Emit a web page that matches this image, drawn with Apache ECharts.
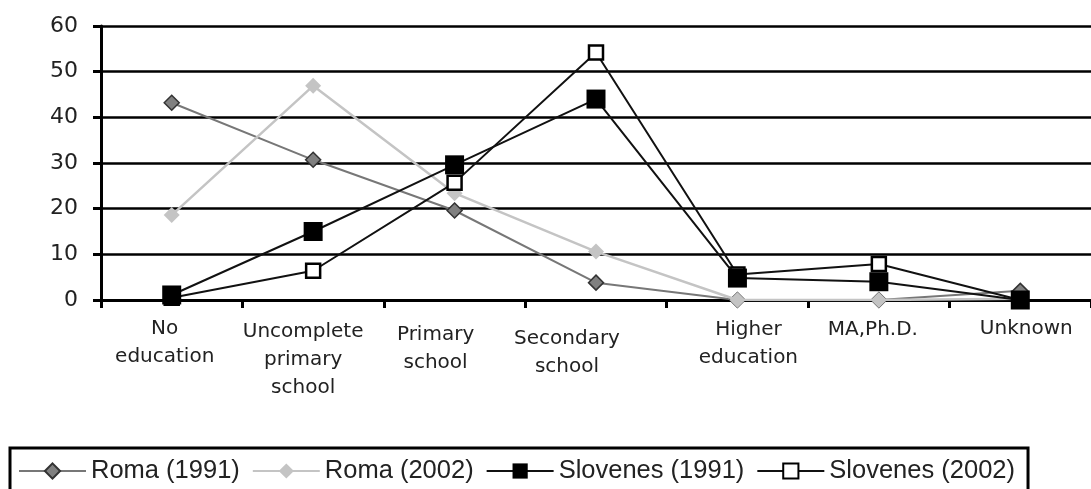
<!DOCTYPE html>
<html>
<head>
<meta charset="utf-8">
<script src="https://cdn.jsdelivr.net/npm/echarts@6/dist/echarts.min.js"></script>
<style>
html,body{margin:0;padding:0;background:#fff;}
#c{width:1091px;height:489px;}
</style>
</head>
<body>
<div id="c"></div>
<script>
const categories = ['No\neducation', 'Uncomplete\nprimary\nschool', 'Primary\nschool', 'Secondary\nschool', 'Higher\neducation', 'MA,Ph.D.', 'Unknown'];
const yTicks = [0, 10, 20, 30, 40, 50, 60];
const roma1991 = [43.2, 30.7, 19.6, 3.8, 0, 0, 2];
const roma2002 = [18.6, 46.9, 23.4, 10.6, 0, 0, 0.3];
const slovenes1991 = [1.1, 15.0, 29.6, 44.0, 4.8, 4.0, 0];
const slovenes2002 = [0.5, 6.4, 25.7, 54.2, 5.6, 7.9, 0];
const seriesNames = ['Roma (1991)', 'Roma (2002)', 'Slovenes (1991)', 'Slovenes (2002)'];

// label placement tweaks (style only): [top, right, bottom, left]
const labelPad = [[1,14,0,0],[4,20,0,0],[7,38,0,0],[11,58,0,0],[2,0,0,22],[2,12,0,0],[1,0,0,12]];

const chart = echarts.init(document.getElementById('c'), null, {renderer: 'canvas'});
const axisFont = 'DejaVu Sans';
chart.setOption({
  animation: false,
  backgroundColor: '#ffffff',
  grid: {left: 101, right: 0, top: 26, bottom: 189, containLabel: false},
  xAxis: {
    type: 'category',
    boundaryGap: true,
    data: categories.map((c, i) => ({value: c, textStyle: {padding: labelPad[i]}})),
    axisLine: {show: true, lineStyle: {color: '#000', width: 3}},
    axisTick: {show: true, length: 8, lineStyle: {color: '#000', width: 3}},
    axisLabel: {interval: 0, margin: 14, color: '#222', fontSize: 20, fontFamily: axisFont, lineHeight: 28, align: 'center', verticalAlign: 'top'},
    splitLine: {show: false}
  },
  yAxis: {
    type: 'value',
    min: yTicks[0],
    max: yTicks[yTicks.length - 1],
    interval: 10,
    axisLine: {show: true, lineStyle: {color: '#000', width: 3}},
    axisTick: {show: true, length: 8, lineStyle: {color: '#000', width: 3}},
    axisLabel: {margin: 23, color: '#222', fontSize: 22, fontFamily: axisFont},
    splitLine: {show: true, lineStyle: {color: '#000', width: 2.5}}
  },
  legend: {
    left: 10,
    top: 448,
    orient: 'horizontal',
    data: seriesNames,
    itemWidth: 67,
    itemHeight: 19,
    itemGap: 12,
    padding: [10, 13, 30, 8],
    borderColor: '#000',
    borderWidth: 3,
    textStyle: {fontSize: 25.5, fontFamily: 'Liberation Sans', color: '#222'}
  },
  series: [
    {
      name: seriesNames[0], type: 'line', data: roma1991, z: 2,
      symbol: 'diamond', symbolSize: 15,
      lineStyle: {color: '#777777', width: 2},
      itemStyle: {color: '#808080', borderColor: '#333333', borderWidth: 1.5}
    },
    {
      name: seriesNames[1], type: 'line', data: roma2002, z: 3,
      symbol: 'diamond', symbolSize: 16,
      lineStyle: {color: '#c4c4c4', width: 2.5},
      itemStyle: {color: '#c4c4c4', borderColor: '#c4c4c4', borderWidth: 0}
    },
    {
      name: seriesNames[2], type: 'line', data: slovenes1991, z: 5,
      symbol: 'rect', symbolSize: 19,
      lineStyle: {color: '#111111', width: 2},
      itemStyle: {color: '#000000', borderColor: '#000000', borderWidth: 0}
    },
    {
      name: seriesNames[3], type: 'line', data: slovenes2002, z: 4,
      symbol: 'rect', symbolSize: 14,
      lineStyle: {color: '#111111', width: 2},
      itemStyle: {color: '#ffffff', borderColor: '#000000', borderWidth: 2.5}
    }
  ]
});
</script>
</body>
</html>
